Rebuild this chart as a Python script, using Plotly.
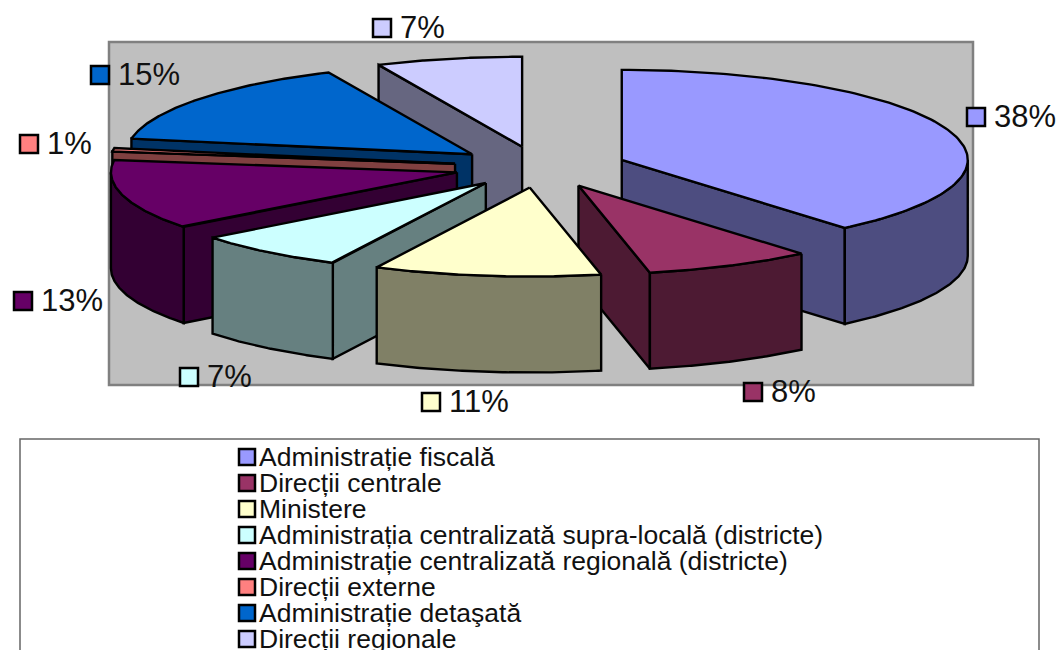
import numpy as np
import plotly.graph_objects as go

# ---- data ----
categories = ["Administrație fiscală", "Direcții centrale", "Ministere",
              "Administrația centralizată supra-locală (districte)",
              "Administrație centralizată regională (districte)",
              "Direcții externe", "Administrație detaşată", "Direcții regionale"]
percent_labels = ["38%", "8%", "11%", "7%", "13%", "1%", "15%", "7%"]
shares = [38.85, 7.84, 10.6, 7.2, 12.7, 0.6, 15.4, 6.81]
colors = ["#9999FF", "#993366", "#FFFFCC", "#CCFFFF", "#660066", "#FF8080", "#0066CC", "#CCCCFF"]
shades = ["#4D4D80", "#4D1A33", "#808066", "#668080", "#330033", "#804040", "#003366", "#666680"]

# ---- layout of the projected pie (pixels of the page) ----
CX, CY, A, B_BACK, B_FRONT, DEPTH = 540.5, 167, 346, 90, 89, 96
EXPLODE_X, EXPLODE_Y = 0.25, 0.23
label_xy = [(976, 117), (753, 392), (431, 402), (189, 377), (23, 301), (29, 144), (100, 75), (382, 28)]
LABEL_GAP, LABEL_DY = 18, 2
LEGEND_X, LEGEND_Y0, LEGEND_DY = 247, 457, 26
LEGEND_TEXT_DX, LEGEND_TEXT_DY = 12, 2

fig = go.Figure()


def poly(xs, ys, fill):
    fig.add_trace(go.Scatter(x=list(xs), y=list(ys), mode="lines", fill="toself", fillcolor=fill,
                             line=dict(color="black", width=2.4), hoverinfo="skip", showlegend=False))


ends = np.cumsum(shares) / np.sum(shares) * 2 * np.pi
starts = np.concatenate([[0], ends[:-1]])
mids = (starts + ends) / 2
for i in np.argsort(-np.cos(mids)):
    t1, t2, m = starts[i], ends[i], mids[i]
    ax = CX + EXPLODE_X * A * np.sin(m)
    ay = CY - EXPLODE_Y * B_BACK * np.cos(m)
    ex = lambda t: ax + A * np.sin(t)
    ey = lambda t: ay - np.where(np.cos(t) > 0, B_BACK, B_FRONT) * np.cos(t)
    # radial walls facing the viewer
    if np.sin(t1) < -1e-9:
        poly([ax, ex(t1), ex(t1), ax, ax], [ay, ey(t1), ey(t1) + DEPTH, ay + DEPTH, ay], shades[i])
    if np.sin(t2) > 1e-9:
        poly([ax, ex(t2), ex(t2), ax, ax], [ay, ey(t2), ey(t2) + DEPTH, ay + DEPTH, ay], shades[i])
    # outer wall, front half of the ellipse only
    w1, w2 = max(t1, np.pi / 2), min(t2, 3 * np.pi / 2)
    if w2 > w1:
        ts = np.linspace(w1, w2, 80)
        poly(np.r_[ex(ts), ex(ts[::-1]), ex(ts[0])],
             np.r_[ey(ts), ey(ts[::-1]) + DEPTH, ey(ts[0])], shades[i])
    # top face
    ts = np.linspace(t1, t2, 120)
    poly(np.r_[ax, ex(ts), ax], np.r_[ay, ey(ts), ay], colors[i])

# data labels
for i, (x, y) in enumerate(label_xy):
    fig.add_trace(go.Scatter(x=[x], y=[y], mode="markers",
                             marker=dict(symbol="square", size=18, color=colors[i], line=dict(color="black", width=2.5)),
                             hoverinfo="skip", showlegend=False, cliponaxis=False))
    fig.add_trace(go.Scatter(x=[x + LABEL_GAP], y=[y + LABEL_DY], mode="text", text=[percent_labels[i]],
                             textposition="middle right", textfont=dict(family="Liberation Sans", size=31, color="#111"),
                             hoverinfo="skip", showlegend=False, cliponaxis=False))

# legend entries
for i, name in enumerate(categories):
    y = LEGEND_Y0 + i * LEGEND_DY
    fig.add_trace(go.Scatter(x=[LEGEND_X], y=[y], mode="markers", name=name,
                             marker=dict(symbol="square", size=16, color=colors[i], line=dict(color="black", width=2.5)),
                             hoverinfo="skip", showlegend=False, cliponaxis=False))
    fig.add_trace(go.Scatter(x=[LEGEND_X + LEGEND_TEXT_DX], y=[y + LEGEND_TEXT_DY], mode="text", text=[name],
                             textposition="middle right", textfont=dict(family="Liberation Sans", size=26.5, color="#111"),
                             hoverinfo="skip", showlegend=False, cliponaxis=False))

fig.update_layout(
    width=1057, height=650, margin=dict(l=0, r=0, t=0, b=0), paper_bgcolor="white", plot_bgcolor="white",
    xaxis=dict(range=[0, 1057], visible=False, fixedrange=True),
    yaxis=dict(range=[650, 0], visible=False, fixedrange=True),
    shapes=[
        dict(type="rect", layer="below", x0=109, x1=973, y0=42, y1=385, fillcolor="#BFBFBF", line=dict(color="#808080", width=2.5)),
        dict(type="rect", layer="below", x0=20, x1=1039, y0=439, y1=670, fillcolor="white", line=dict(color="#666666", width=1.5)),
    ],
)
fig.write_html("out.html", config={"displayModeBar": False},
               post_script="document.body.style.margin='0';document.body.style.overflow='hidden';")
